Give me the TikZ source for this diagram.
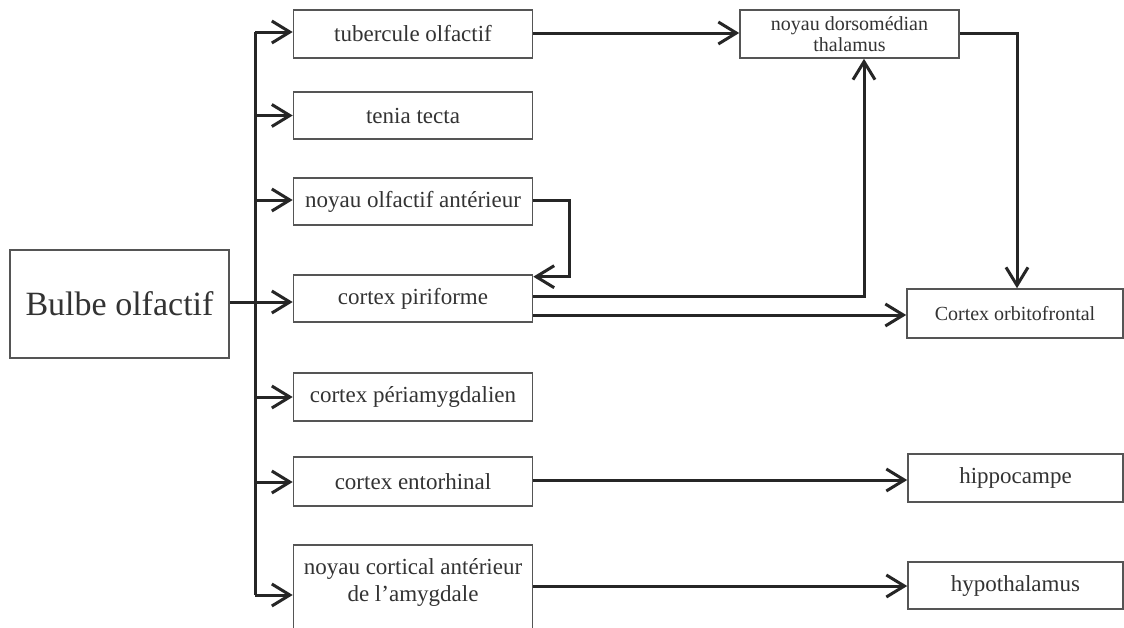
\documentclass[tikz,border=0pt]{standalone}
\usepackage{fontspec}
\setmainfont{Liberation Serif}
\usetikzlibrary{arrows.meta,calc}
\definecolor{boxc}{HTML}{555555}
\definecolor{linec}{HTML}{262626}
\definecolor{txtc}{HTML}{333333}
\begin{document}
\begin{tikzpicture}[x=1pt,y=-1pt,
  box/.style={draw=boxc, line width=1.6pt, rectangle, inner sep=0pt, text=txtc, align=center,
    minimum width=239pt, minimum height=48pt},
  mid/.style={box, font=\fontsize{23}{27}\selectfont},
  small/.style={box, font=\fontsize{20}{21}\selectfont},
  txt/.style={inner sep=0pt, text=txtc, align=center, font=\fontsize{23}{27}\selectfont},
  plain/.style={draw=linec, line width=3pt},
  conn/.style={plain, -{Straight Barb[length=18pt,width=22pt]}}]
\useasboundingbox (0,0) rectangle (1124,627);
\fill[white] (0,0) rectangle (1124,627);
% nodes
\node[box, minimum width=219pt, minimum height=108pt, font=\fontsize{34}{40}\selectfont] (bulbe) at (119.5,304) {Bulbe olfactif};
\node[mid] (tub) at (413,34) {tubercule olfactif};
\node[mid, minimum height=47pt] (tenia) at (413,115.5) {tenia tecta};
\node[mid, minimum height=47pt] (noa) at (413,201.5) {noyau olfactif antérieur};
\node[mid, minimum height=47pt] (pir) at (413,298.5) {cortex piriforme};
\node[mid] (peri) at (413,397) {cortex périamygdalien};
\node[mid, minimum height=49pt] (ent) at (413,481.5) {cortex entorhinal};
\node[box, minimum height=100pt] (nca) at (413,595) {};
\node[txt] (ncat) at (413,582) {noyau cortical antérieur\\de l’amygdale};
\node[small, minimum width=219pt] (thal) at (849.5,34) {noyau dorsomédian\\thalamus};
\node[small, minimum width=216pt, minimum height=49pt] (orb) at (1015,313.5) {Cortex orbitofrontal};
\node[mid, minimum width=215pt] (hip) at (1015.5,478) {hippocampe};
\node[mid, minimum width=215pt, minimum height=47pt] (hyp) at (1015.5,585.5) {hypothalamus};
\coordinate (tk) at (255,0);
% trunk and branches
\draw[plain] (tk |- 0,32) -- (tk |- 0,595);
\draw[conn] (bulbe.east |- 0,302) -- (pir.west |- 0,302);
\draw[conn] (tk |- 0,32) -- (tub.west |- 0,32);
\draw[conn] (tk |- tenia.west) -- (tenia.west);
\draw[conn] (tk |- 0,200) -- (noa.west |- 0,200);
\draw[conn] (tk |- peri.west) -- (peri.west);
\draw[conn] (tk |- 0,482) -- (ent.west |- 0,482);
\draw[conn] (tk |- 0,595) -- (nca.west |- 0,595);
% other connectors
\draw[conn] (tub.east |- 0,33) -- (thal.west |- 0,33);
\draw[conn] (thal.east |- 0,33) -| ($(orb.north)+(2,0)$);
\draw[conn] (noa.east |- 0,200) -- ++(36,0) |- ($(pir.north east)+(0,2.5)$);
\draw[conn] (pir.east |- 0,296) -| ($(thal.south)+(14.5,0)$);
\draw[conn] (pir.east |- 0,315) -- (orb.west |- 0,315);
\draw[conn] (ent.east |- 0,480) -- (hip.west |- 0,480);
\draw[conn] (nca.east |- 0,586) -- (hyp.west |- 0,586);
\end{tikzpicture}
\end{document}
